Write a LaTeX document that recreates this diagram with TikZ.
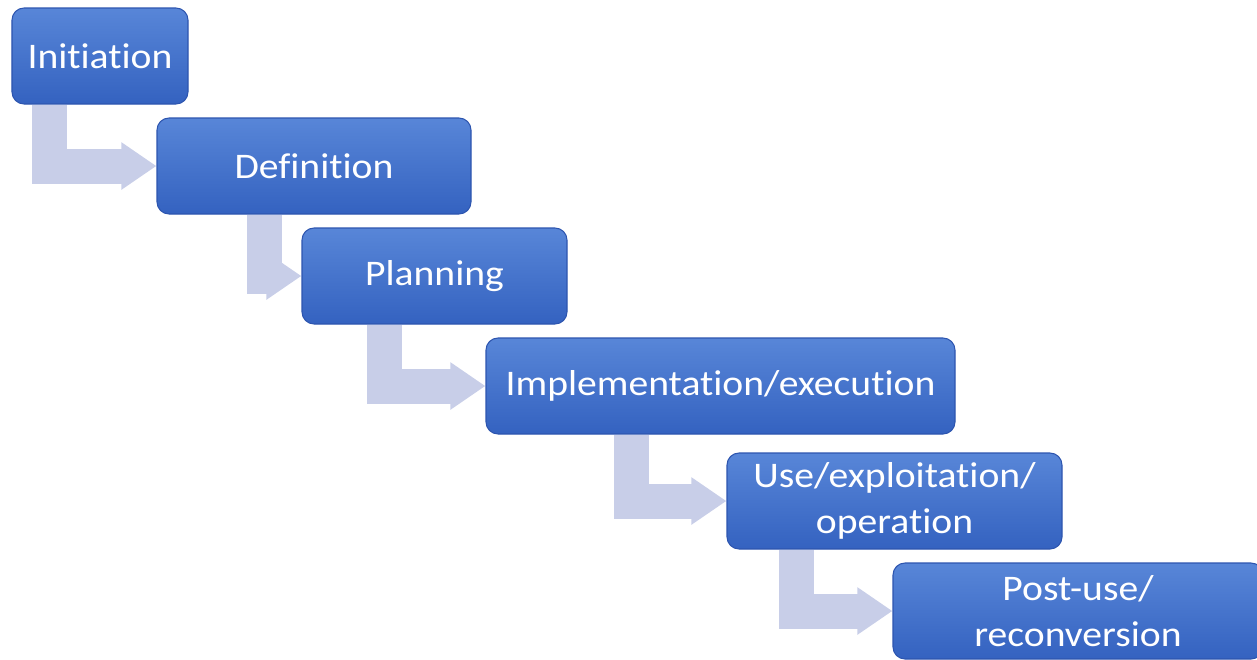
\documentclass[tikz,border=0pt]{standalone}
\usepackage{fontspec}
\setmainfont[Ligatures=NoCommon, FakeStretch=1.1]{Carlito}
\usetikzlibrary{arrows.meta,backgrounds}

\definecolor{phasetop}{RGB}{88,134,216}
\definecolor{phasebot}{RGB}{52,98,192}
\definecolor{phaseedge}{RGB}{45,85,175}
\definecolor{bendfill}{RGB}{200,206,232}

\tikzset{
  phase/.style={rounded corners=0.24cm, top color=phasetop, bottom color=phasebot,
    draw=phaseedge, line width=0.6pt, minimum height=1.92cm, inner sep=0pt,
    align=center, text=white, font=\fontsize{20.5}{26}\selectfont},
  bentarrow/.style={draw=bendfill, line width=0.7cm,
    -{Triangle[length=0.7cm,width=0.9cm]}}
}

\begin{document}
\begin{tikzpicture}
        \useasboundingbox (0,0) rectangle (25.14,-13.18);
        % Phases
        \node[phase, minimum width=3.52cm] (init) at (2.00,-1.12) {Initiation};
        \node[phase, minimum width=6.28cm] (defn) at (6.28,-3.32) {Definition};
        \node[phase, minimum width=5.30cm] (plan) at (8.69,-5.52) {Planning};
        \node[phase, minimum width=9.38cm] (impl) at (14.41,-7.72) {Implementation/execution};
        \node[phase, minimum width=6.70cm] (use) at (17.89,-10.02) {Use/exploitation/\\operation};
        \node[phase, minimum width=7.40cm] (post) at (21.56,-12.22) {Post-use/\\reconversion};
        % Bent arrows behind the boxes
        \begin{scope}[on background layer]
          \foreach \a/\b/\dx in {init/defn/0.76, defn/plan/2.16, plan/impl/1.66,
                                 impl/use/2.92, use/post/1.40}
            \draw[bentarrow] ([xshift=\dx cm]\a.south west) |- (\b.west);
        \end{scope}
\end{tikzpicture}
\end{document}
